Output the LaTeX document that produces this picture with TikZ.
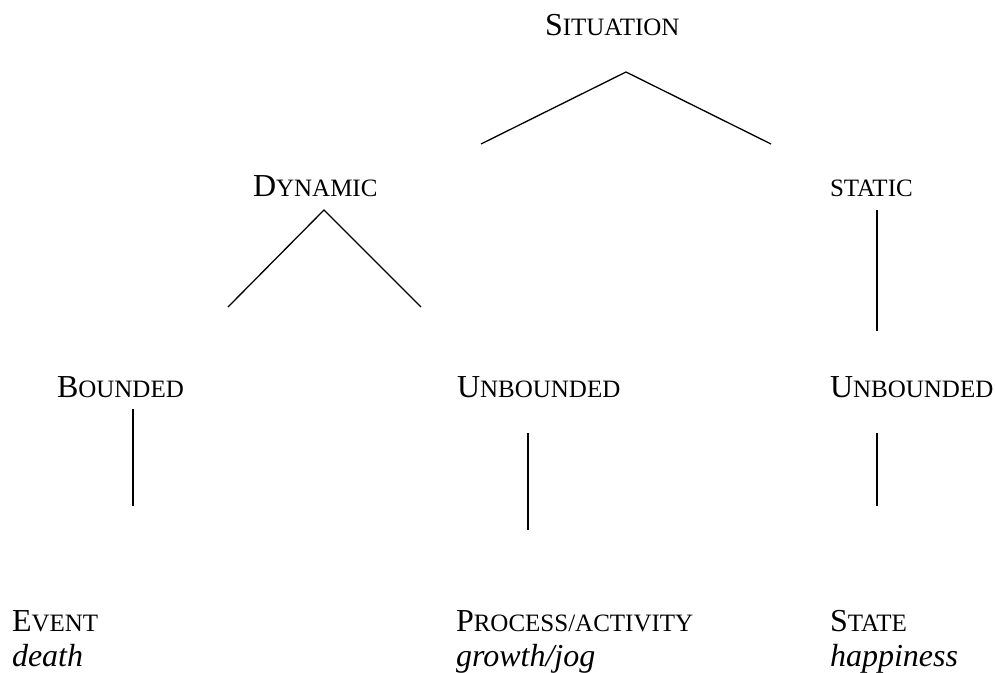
\documentclass[tikz,border=0pt]{standalone}
\usepackage{fontspec}
\setmainfont{Liberation Serif}
\newcommand\bigsz{\fontsize{32bp}{38bp}\selectfont}
\newcommand\smsz{\fontsize{25bp}{30bp}\selectfont}
\newcommand\fsc[2]{{\bigsz #1}{\smsz #2}}
\begin{document}
\begin{tikzpicture}[x=1bp,y=-1bp,
  lbl/.style={anchor=base west,inner sep=0pt,outer sep=0pt,font=\bigsz},
  branch/.style={line width=1.3bp,black}]
\useasboundingbox (0,0) rectangle (995,673);
% labels
\node[lbl] (sit) at (545,36) {\fsc{S}{ITUATION}};
\node[lbl] (dyn) at (253,197) {\fsc{D}{YNAMIC}};
\node[lbl] (sta) at (830,197) {\smsz STATIC};
\node[lbl] (bnd) at (57,397) {\fsc{B}{OUNDED}};
\node[lbl] (unb) at (457,397) {\fsc{U}{NBOUNDED}};
\node[lbl] (unbs) at (830,397) {\fsc{U}{NBOUNDED}};
\node[lbl] (evt) at (12,631) {\fsc{E}{VENT}};
\node[lbl] (evtx) at (12,666) {\itshape death};
\node[lbl] (proc) at (456,631) {\fsc{P}{ROCESS/ACTIVITY}};
\node[lbl] (procx) at (456,666) {\itshape growth/jog};
\node[lbl] (stt) at (830,631) {\fsc{S}{TATE}};
\node[lbl] (sttx) at (830,666) {\itshape happiness};
% branch points
\coordinate (sitA) at (626,72);
\coordinate (sitL) at (481,144);
\coordinate (sitR) at (771,144);
\coordinate (dynA) at (324,210);
\coordinate (dynL) at (228,307);
\coordinate (dynR) at (421,307);
\coordinate (staT) at (877,210);
\coordinate (staB) at (877,331);
\coordinate (bndT) at (133,409);
\coordinate (bndB) at (133,506);
\coordinate (unbT) at (528,433);
\coordinate (unbB) at (528,530);
\coordinate (unbsT) at (877,433);
\coordinate (unbsB) at (877,506);
\draw[branch] (sitL) -- (sitA) -- (sitR);
\draw[branch] (dynL) -- (dynA) -- (dynR);
\draw[branch] (staT) -- (staB);
\draw[branch] (bndT) -- (bndB);
\draw[branch] (unbT) -- (unbB);
\draw[branch] (unbsT) -- (unbsB);
\end{tikzpicture}
\end{document}
